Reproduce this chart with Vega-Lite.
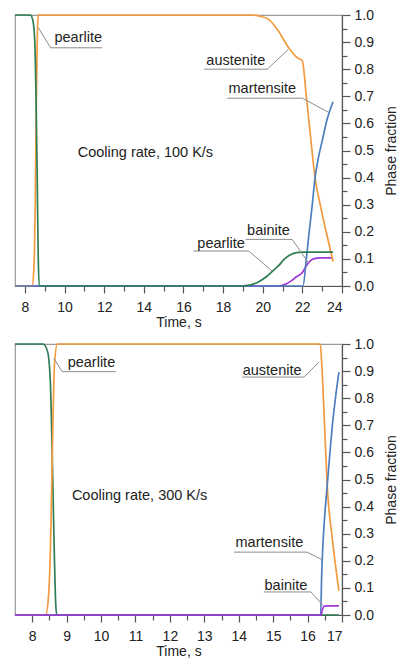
{
  "$schema": "https://vega.github.io/schema/vega-lite/v6.json",
  "background": "white",
  "padding": {"left": 11, "top": 7, "right": 0, "bottom": 0},
  "spacing": 6,
  "config": {
    "font": "Liberation Sans",
    "view": {"stroke": "#9a9a9a", "strokeWidth": 1.2},
    "axis": {
      "grid": false,
      "labelFont": "Liberation Sans",
      "labelFontSize": 14,
      "labelColor": "#222",
      "titleFont": "Liberation Sans",
      "titleFontSize": 14,
      "titleFontWeight": "normal",
      "titleColor": "#222",
      "domainColor": "#555",
      "tickColor": "#555",
      "domainWidth": 1.2,
      "tickWidth": 1.2
    },
    "text": {"font": "Liberation Sans", "fontSize": 14.5, "color": "#222"}
  },
  "datasets": {
    "r100": [
      {"phase": "bainite", "t": 7.5, "f": 0}, {"phase": "bainite", "t": 20.8, "f": 0}, {"phase": "bainite", "t": 21.1, "f": 0.005},
      {"phase": "bainite", "t": 21.4, "f": 0.017}, {"phase": "bainite", "t": 21.7, "f": 0.034}, {"phase": "bainite", "t": 22.0, "f": 0.05},
      {"phase": "bainite", "t": 22.2, "f": 0.075}, {"phase": "bainite", "t": 22.4, "f": 0.093}, {"phase": "bainite", "t": 22.6, "f": 0.101},
      {"phase": "bainite", "t": 22.9, "f": 0.104}, {"phase": "bainite", "t": 23.55, "f": 0.104},

      {"phase": "austenite", "t": 7.5, "f": 0}, {"phase": "austenite", "t": 8.36, "f": 0}, {"phase": "austenite", "t": 8.45, "f": 0.06},
      {"phase": "austenite", "t": 8.52, "f": 0.3}, {"phase": "austenite", "t": 8.58, "f": 0.7}, {"phase": "austenite", "t": 8.63, "f": 0.93},
      {"phase": "austenite", "t": 8.68, "f": 1}, {"phase": "austenite", "t": 19.4, "f": 1}, {"phase": "austenite", "t": 19.9, "f": 0.995},
      {"phase": "austenite", "t": 20.3, "f": 0.984}, {"phase": "austenite", "t": 20.8, "f": 0.94}, {"phase": "austenite", "t": 21.3, "f": 0.88},
      {"phase": "austenite", "t": 21.7, "f": 0.845}, {"phase": "austenite", "t": 22.0, "f": 0.83}, {"phase": "austenite", "t": 22.2, "f": 0.7},
      {"phase": "austenite", "t": 22.4, "f": 0.56}, {"phase": "austenite", "t": 22.64, "f": 0.4}, {"phase": "austenite", "t": 22.9, "f": 0.3},
      {"phase": "austenite", "t": 23.2, "f": 0.2}, {"phase": "austenite", "t": 23.55, "f": 0.09},

      {"phase": "martensite", "t": 7.5, "f": 0}, {"phase": "martensite", "t": 22.03, "f": 0}, {"phase": "martensite", "t": 22.2, "f": 0.1},
      {"phase": "martensite", "t": 22.33, "f": 0.19}, {"phase": "martensite", "t": 22.5, "f": 0.3}, {"phase": "martensite", "t": 22.64, "f": 0.4},
      {"phase": "martensite", "t": 22.8, "f": 0.47}, {"phase": "martensite", "t": 23.0, "f": 0.535}, {"phase": "martensite", "t": 23.25, "f": 0.615},
      {"phase": "martensite", "t": 23.55, "f": 0.68},

      {"phase": "pearlite", "t": 7.5, "f": 1}, {"phase": "pearlite", "t": 8.28, "f": 1}, {"phase": "pearlite", "t": 8.4, "f": 0.98},
      {"phase": "pearlite", "t": 8.5, "f": 0.9}, {"phase": "pearlite", "t": 8.56, "f": 0.7}, {"phase": "pearlite", "t": 8.62, "f": 0.4},
      {"phase": "pearlite", "t": 8.67, "f": 0.12}, {"phase": "pearlite", "t": 8.72, "f": 0}, {"phase": "pearlite", "t": 18.9, "f": 0},
      {"phase": "pearlite", "t": 19.4, "f": 0.004}, {"phase": "pearlite", "t": 19.8, "f": 0.016}, {"phase": "pearlite", "t": 20.2, "f": 0.035},
      {"phase": "pearlite", "t": 20.5, "f": 0.055}, {"phase": "pearlite", "t": 20.8, "f": 0.075}, {"phase": "pearlite", "t": 21.1, "f": 0.1},
      {"phase": "pearlite", "t": 21.4, "f": 0.115}, {"phase": "pearlite", "t": 21.7, "f": 0.123}, {"phase": "pearlite", "t": 22.0, "f": 0.125},
      {"phase": "pearlite", "t": 23.55, "f": 0.125}
    ],
    "r300": [
      {"phase": "pearlite", "t": 7.5, "f": 1}, {"phase": "pearlite", "t": 8.32, "f": 1}, {"phase": "pearlite", "t": 8.45, "f": 0.97},
      {"phase": "pearlite", "t": 8.53, "f": 0.85}, {"phase": "pearlite", "t": 8.58, "f": 0.6}, {"phase": "pearlite", "t": 8.63, "f": 0.3},
      {"phase": "pearlite", "t": 8.68, "f": 0.05}, {"phase": "pearlite", "t": 8.71, "f": 0}, {"phase": "pearlite", "t": 16.91, "f": 0},

      {"phase": "austenite", "t": 7.5, "f": 0}, {"phase": "austenite", "t": 8.39, "f": 0}, {"phase": "austenite", "t": 8.48, "f": 0.08},
      {"phase": "austenite", "t": 8.54, "f": 0.3}, {"phase": "austenite", "t": 8.6, "f": 0.7}, {"phase": "austenite", "t": 8.65, "f": 0.93},
      {"phase": "austenite", "t": 8.73, "f": 1}, {"phase": "austenite", "t": 16.37, "f": 1}, {"phase": "austenite", "t": 16.41, "f": 0.93},
      {"phase": "austenite", "t": 16.51, "f": 0.65}, {"phase": "austenite", "t": 16.57, "f": 0.48}, {"phase": "austenite", "t": 16.72, "f": 0.28},
      {"phase": "austenite", "t": 16.91, "f": 0.09},

      {"phase": "martensite", "t": 7.5, "f": 0}, {"phase": "martensite", "t": 16.38, "f": 0}, {"phase": "martensite", "t": 16.41, "f": 0.15},
      {"phase": "martensite", "t": 16.45, "f": 0.27}, {"phase": "martensite", "t": 16.5, "f": 0.37}, {"phase": "martensite", "t": 16.57, "f": 0.477},
      {"phase": "martensite", "t": 16.65, "f": 0.6}, {"phase": "martensite", "t": 16.72, "f": 0.7}, {"phase": "martensite", "t": 16.8, "f": 0.79},
      {"phase": "martensite", "t": 16.91, "f": 0.896},

      {"phase": "bainite", "t": 7.5, "f": 0}, {"phase": "bainite", "t": 16.39, "f": 0}, {"phase": "bainite", "t": 16.43, "f": 0.02},
      {"phase": "bainite", "t": 16.48, "f": 0.032}, {"phase": "bainite", "t": 16.55, "f": 0.034}, {"phase": "bainite", "t": 16.91, "f": 0.034}
    ],
    "lab100": [
      {"label": "pearlite", "t": 10.69, "f": 0.916},
      {"label": "austenite", "t": 18.64, "f": 0.83},
      {"label": "martensite", "t": 19.98, "f": 0.726},
      {"label": "bainite", "t": 20.29, "f": 0.203},
      {"label": "pearlite", "t": 17.9, "f": 0.155},
      {"label": "Cooling rate, 100 K/s", "t": 14.08, "f": 0.492}
    ],
    "lead100": [
      {"id": "p1", "k": 0, "t": 11.9, "f": 0.879}, {"id": "p1", "k": 1, "t": 9.3, "f": 0.879}, {"id": "p1", "k": 2, "t": 8.68, "f": 0.953},
      {"id": "a", "k": 0, "t": 17.04, "f": 0.8}, {"id": "a", "k": 1, "t": 20.23, "f": 0.8}, {"id": "a", "k": 2, "t": 21.29, "f": 0.873},
      {"id": "m", "k": 0, "t": 18.21, "f": 0.693}, {"id": "m", "k": 1, "t": 22.0, "f": 0.693}, {"id": "m", "k": 2, "t": 23.34, "f": 0.64},
      {"id": "b", "k": 0, "t": 19.14, "f": 0.172}, {"id": "b", "k": 1, "t": 21.49, "f": 0.172}, {"id": "b", "k": 2, "t": 22.3, "f": 0.086},
      {"id": "p2", "k": 0, "t": 16.5, "f": 0.129}, {"id": "p2", "k": 1, "t": 19.3, "f": 0.129}, {"id": "p2", "k": 2, "t": 20.47, "f": 0.055}
    ],
    "lab300": [
      {"label": "pearlite", "t": 9.72, "f": 0.929},
      {"label": "austenite", "t": 14.97, "f": 0.9},
      {"label": "martensite", "t": 14.89, "f": 0.266},
      {"label": "bainite", "t": 15.37, "f": 0.107},
      {"label": "Cooling rate, 300 K/s", "t": 11.12, "f": 0.439}
    ],
    "lead300": [
      {"id": "p", "k": 0, "t": 10.43, "f": 0.898}, {"id": "p", "k": 1, "t": 8.87, "f": 0.898}, {"id": "p", "k": 2, "t": 8.63, "f": 0.947},
      {"id": "a", "k": 0, "t": 14.1, "f": 0.878}, {"id": "a", "k": 1, "t": 15.9, "f": 0.878}, {"id": "a", "k": 2, "t": 16.33, "f": 0.933},
      {"id": "m", "k": 0, "t": 13.86, "f": 0.232}, {"id": "m", "k": 1, "t": 15.98, "f": 0.232}, {"id": "m", "k": 2, "t": 16.41, "f": 0.205},
      {"id": "b", "k": 0, "t": 14.73, "f": 0.085}, {"id": "b", "k": 1, "t": 16.1, "f": 0.085}, {"id": "b", "k": 2, "t": 16.45, "f": 0.035}
    ]
  },
  "vconcat": [
    {
      "width": 327,
      "height": 271,
      "encoding": {
        "x": {
          "field": "t", "type": "quantitative",
          "scale": {"domain": [7.5, 24], "nice": false, "zero": false},
          "axis": {
            "title": "Time, s",
            "values": [8, 9, 10, 11, 12, 13, 14, 15, 16, 17, 18, 19, 20, 21, 22, 23, 24],
            "labelExpr": "datum.value % 2 == 0 ? datum.value : ''",
            "tickSize": {"condition": {"test": "datum.value % 2 == 0", "value": 7}, "value": 5},
            "labelPadding": 7,
            "titlePadding": 1
          }
        },
        "y": {
          "field": "f", "type": "quantitative",
          "scale": {"domain": [0, 1], "nice": false},
          "axis": {
            "orient": "right",
            "title": "Phase fraction",
            "titleAngle": 270,
            "titleBaseline": "top",
            "values": [0, 0.05, 0.1, 0.15, 0.2, 0.25, 0.3, 0.35, 0.4, 0.45, 0.5, 0.55, 0.6, 0.65, 0.7, 0.75, 0.8, 0.85, 0.9, 0.95, 1],
            "labelExpr": "abs(datum.value * 10 - round(datum.value * 10)) < 0.001 ? format(datum.value, '.1f') : ''",
            "tickSize": {"condition": {"test": "abs(datum.value * 10 - round(datum.value * 10)) < 0.001", "value": 8}, "value": 5},
            "labelPadding": 4,
            "titlePadding": 11
          }
        }
      },
      "layer": [
        {"data": {"name": "r100"}, "transform": [{"filter": "datum.phase == 'bainite'"}],
         "mark": {"type": "line", "color": "#a235d6", "strokeWidth": 1.7, "interpolate": "monotone"}},
        {"data": {"name": "r100"}, "transform": [{"filter": "datum.phase == 'austenite'"}],
         "mark": {"type": "line", "color": "#f29a3f", "strokeWidth": 1.7, "interpolate": "monotone"}},
        {"data": {"name": "r100"}, "transform": [{"filter": "datum.phase == 'martensite'"}],
         "mark": {"type": "line", "color": "#4d7fbf", "strokeWidth": 1.7, "interpolate": "monotone"}},
        {"data": {"name": "r100"}, "transform": [{"filter": "datum.phase == 'pearlite'"}],
         "mark": {"type": "line", "color": "#2f7d55", "strokeWidth": 1.7, "interpolate": "monotone"}},
        {"data": {"name": "lead100"},
         "mark": {"type": "line", "color": "#8c8c8c", "strokeWidth": 1},
         "encoding": {"detail": {"field": "id"}, "order": {"field": "k", "type": "quantitative"}}},
        {"data": {"name": "lab100"},
         "mark": {"type": "text", "align": "center", "baseline": "middle"},
         "encoding": {"text": {"field": "label"}}}
      ]
    },
    {
      "width": 327,
      "height": 271,
      "encoding": {
        "x": {
          "field": "t", "type": "quantitative",
          "scale": {"domain": [7.5, 17], "nice": false, "zero": false},
          "axis": {
            "title": "Time, s",
            "values": [8, 8.5, 9, 9.5, 10, 10.5, 11, 11.5, 12, 12.5, 13, 13.5, 14, 14.5, 15, 15.5, 16, 16.5, 17],
            "labelExpr": "datum.value % 1 == 0 ? datum.value : ''",
            "tickSize": {"condition": {"test": "datum.value % 1 == 0", "value": 7}, "value": 5},
            "labelPadding": 7,
            "titlePadding": 1
          }
        },
        "y": {
          "field": "f", "type": "quantitative",
          "scale": {"domain": [0, 1], "nice": false},
          "axis": {
            "orient": "right",
            "title": "Phase fraction",
            "titleAngle": 270,
            "titleBaseline": "top",
            "values": [0, 0.05, 0.1, 0.15, 0.2, 0.25, 0.3, 0.35, 0.4, 0.45, 0.5, 0.55, 0.6, 0.65, 0.7, 0.75, 0.8, 0.85, 0.9, 0.95, 1],
            "labelExpr": "abs(datum.value * 10 - round(datum.value * 10)) < 0.001 ? format(datum.value, '.1f') : ''",
            "tickSize": {"condition": {"test": "abs(datum.value * 10 - round(datum.value * 10)) < 0.001", "value": 8}, "value": 5},
            "labelPadding": 4,
            "titlePadding": 11
          }
        }
      },
      "layer": [
        {"data": {"name": "r300"}, "transform": [{"filter": "datum.phase == 'pearlite'"}],
         "mark": {"type": "line", "color": "#2f7d55", "strokeWidth": 1.7, "interpolate": "monotone"}},
        {"data": {"name": "r300"}, "transform": [{"filter": "datum.phase == 'austenite'"}],
         "mark": {"type": "line", "color": "#f29a3f", "strokeWidth": 1.7, "interpolate": "monotone"}},
        {"data": {"name": "r300"}, "transform": [{"filter": "datum.phase == 'martensite'"}],
         "mark": {"type": "line", "color": "#4d7fbf", "strokeWidth": 1.7, "interpolate": "monotone"}},
        {"data": {"name": "r300"}, "transform": [{"filter": "datum.phase == 'bainite'"}],
         "mark": {"type": "line", "color": "#a235d6", "strokeWidth": 1.7, "interpolate": "monotone"}},
        {"data": {"name": "lead300"},
         "mark": {"type": "line", "color": "#8c8c8c", "strokeWidth": 1},
         "encoding": {"detail": {"field": "id"}, "order": {"field": "k", "type": "quantitative"}}},
        {"data": {"name": "lab300"},
         "mark": {"type": "text", "align": "center", "baseline": "middle"},
         "encoding": {"text": {"field": "label"}}}
      ]
    }
  ]
}
